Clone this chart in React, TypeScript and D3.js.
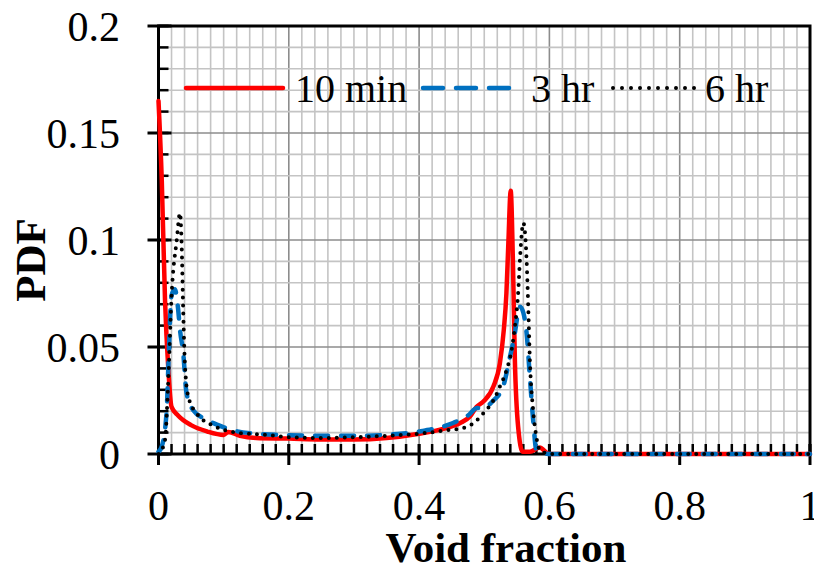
import React from "react";
import * as d3 from "d3";

// series values: [void fraction, PDF]
const min10: [number, number][] = [
  [0, 0.165], [0.005, 0.128], [0.01, 0.072], [0.015, 0.04], [0.02, 0.022],
  [0.03, 0.018], [0.05, 0.0135], [0.075, 0.0105], [0.1, 0.0089], [0.107, 0.0103],
  [0.125, 0.0085], [0.15, 0.0075], [0.2, 0.0072], [0.25, 0.0068], [0.3, 0.0068],
  [0.35, 0.0075], [0.4, 0.0095], [0.44, 0.012], [0.463, 0.0145], [0.478, 0.0175],
  [0.488, 0.022], [0.4986, 0.0245], [0.514, 0.0315], [0.524, 0.0425], [0.53, 0.058],
  [0.534, 0.075], [0.537, 0.0985], [0.5406, 0.123], [0.544, 0.09], [0.547, 0.044],
  [0.552, 0.0127], [0.559, 0.001], [0.57, 0.001], [0.585, 0.003], [0.6, 0],
  [0.8, 0], [1, 0]
];

const hr3: [number, number][] = [
  [0, 0.001], [0.005, 0.0035], [0.0125, 0.02], [0.015, 0.04], [0.02, 0.074],
  [0.025, 0.077], [0.03, 0.068], [0.033, 0.058], [0.038, 0.047], [0.043, 0.0285],
  [0.053, 0.0206], [0.074, 0.016], [0.099, 0.0126], [0.115, 0.011], [0.15, 0.0095],
  [0.2, 0.0088], [0.25, 0.0085], [0.3, 0.0085], [0.35, 0.009], [0.4, 0.0105],
  [0.452, 0.0145], [0.475, 0.018], [0.489, 0.0215], [0.498, 0.0215], [0.514, 0.025],
  [0.529, 0.0315], [0.5395, 0.0455], [0.545, 0.053], [0.555, 0.0688], [0.56, 0.066],
  [0.565, 0.0565], [0.57, 0.036], [0.575, 0.016], [0.58, 0.002], [0.6, 0],
  [0.8, 0], [1, 0]
];

const hr6: [number, number][] = [
  [0, 0], [0.005, 0.002], [0.01, 0.0065], [0.015, 0.0346], [0.02, 0.0735],
  [0.028, 0.1], [0.033, 0.1126], [0.0356, 0.097], [0.038, 0.066], [0.0407, 0.041],
  [0.0458, 0.0268], [0.0586, 0.019], [0.089, 0.0126], [0.125, 0.0098], [0.165, 0.009],
  [0.2, 0.0078], [0.25, 0.0075], [0.3, 0.0078], [0.35, 0.0085], [0.4, 0.0095],
  [0.44, 0.011], [0.473, 0.0126], [0.483, 0.0143], [0.4986, 0.019], [0.514, 0.025],
  [0.524, 0.0315], [0.534, 0.039], [0.542, 0.0486], [0.547, 0.0595], [0.552, 0.075],
  [0.555, 0.092], [0.56, 0.108], [0.565, 0.0906], [0.5677, 0.067], [0.57, 0.044],
  [0.575, 0.0206], [0.58, 0.008], [0.585, 0.002], [0.6, 0], [0.8, 0], [1, 0]
];

const xTicks = [0, 0.2, 0.4, 0.6, 0.8, 1];
const yTicks = [0, 0.05, 0.1, 0.15, 0.2];
const xMinor = d3.range(0, 51).map((i) => i * 0.02);
const yMinor = d3.range(0, 21).map((i) => i * 0.01);
const legendLabels = ["10 min", "3 hr", "6 hr"];

const W = 814;
const H = 568;
const margin = { left: 158.5, right: 4, top: 26, bottom: 114 };
const FONT = "'Liberation Serif', 'Times New Roman', serif";

export default function App() {
  const x = d3.scaleLinear().domain([0, 1]).range([margin.left, W - margin.right]);
  const y = d3.scaleLinear().domain([0, 0.2]).range([H - margin.bottom, margin.top]);
  const line = d3
    .line<[number, number]>()
    .x((d) => x(d[0]))
    .y((d) => y(d[1]))
    .curve(d3.curveMonotoneX);

  const x0 = x(0), x1 = x(1), y0 = y(0), y1 = y(0.2);
  const isMajorX = (v: number) => Math.abs(v * 5 - Math.round(v * 5)) < 1e-6;
  const isMajorY = (v: number) => Math.abs(v * 20 - Math.round(v * 20)) < 1e-6;

  const styles = [
    { color: "#ff0000", dash: undefined as string | undefined, width: 4.5, legDash: undefined as string | undefined },
    { color: "#0070c0", dash: "13 13", width: 4.5, legDash: "20 13" },
    { color: "#000000", dash: "0 8", width: 4, legDash: "0 9" }
  ];
  const series = [min10, hr3, hr6];
  const legendPos = [
    { lx0: 186, lx1: 283, tx: 295 },
    { lx0: 423, lx1: 515, tx: 531 },
    { lx0: 613, lx1: 701, tx: 705 }
  ];
  const legY = 88;

  return (
    <div style={{ position: "absolute", left: 0, top: 0 }}>
      <svg width={W} height={H} style={{ display: "block", background: "#fff" }}>
        {/* grid */}
        <g>
          {xMinor.map((v, i) => (
            <line key={"gx" + i} x1={x(v)} x2={x(v)} y1={y1} y2={y0}
              stroke={isMajorX(v) ? "#8c8c8c" : "#c4c4c4"} strokeWidth={1.6} />
          ))}
          {yMinor.map((v, i) => (
            <line key={"gy" + i} x1={x0} x2={x1} y1={y(v)} y2={y(v)}
              stroke={isMajorY(v) ? "#8c8c8c" : "#c4c4c4"} strokeWidth={1.6} />
          ))}
        </g>

        {/* border */}
        <rect x={x0} y={y1} width={x1 - x0} height={y0 - y1} fill="none" stroke="#000" strokeWidth={3} />

        {/* minor ticks */}
        {xMinor.map((v, i) => (
          <line key={"tx" + i} x1={x(v)} x2={x(v)} y1={y0} y2={y0 - 10} stroke="#000" strokeWidth={2.5} />
        ))}
        {yMinor.map((v, i) => (
          <line key={"ty" + i} x1={x0} x2={x0 + 10} y1={y(v)} y2={y(v)} stroke="#000" strokeWidth={2.5} />
        ))}
        {/* major ticks */}
        {xTicks.map((v, i) => (
          <line key={"mx" + i} x1={x(v)} x2={x(v)} y1={y0 - 10} y2={y0 + 11} stroke="#000" strokeWidth={3} />
        ))}
        {yTicks.map((v, i) => (
          <line key={"my" + i} x1={x0 - 11} x2={x0 + 13} y1={y(v)} y2={y(v)} stroke="#000" strokeWidth={3} />
        ))}

        {/* series */}
        {series.map((s, i) => (
          <path key={"s" + i} d={line(s) || ""} fill="none" stroke={styles[i].color}
            strokeWidth={styles[i].width} strokeDasharray={styles[i].dash}
            strokeLinecap="round" strokeLinejoin="round" />
        ))}

        {/* tick labels */}
        {yTicks.map((v, i) => (
          <text key={"ly" + i} x={120} y={y(v) + 15} textAnchor="end" fontFamily={FONT} fontSize={42}>
            {String(v)}
          </text>
        ))}
        {xTicks.map((v, i) => (
          <text key={"lx" + i} x={x(v)} y={520} textAnchor="middle" fontFamily={FONT} fontSize={42}>
            {String(v)}
          </text>
        ))}

        {/* axis titles */}
        <text x={506} y={562} textAnchor="middle" fontFamily={FONT} fontSize={43} fontWeight="bold">
          Void fraction
        </text>
        <text transform={`translate(45,260) rotate(-90)`} textAnchor="middle" fontFamily={FONT}
          fontSize={43} fontWeight="bold">
          PDF
        </text>

        {/* legend */}
        {legendLabels.map((lab, i) => (
          <g key={"leg" + i}>
            <line x1={legendPos[i].lx0} x2={legendPos[i].lx1} y1={legY} y2={legY}
              stroke={styles[i].color} strokeWidth={styles[i].width}
              strokeDasharray={styles[i].legDash} strokeLinecap="round" />
            <text x={legendPos[i].tx} y={legY + 14} fontFamily={FONT} fontSize={40}>
              {lab}
            </text>
          </g>
        ))}
      </svg>
    </div>
  );
}
